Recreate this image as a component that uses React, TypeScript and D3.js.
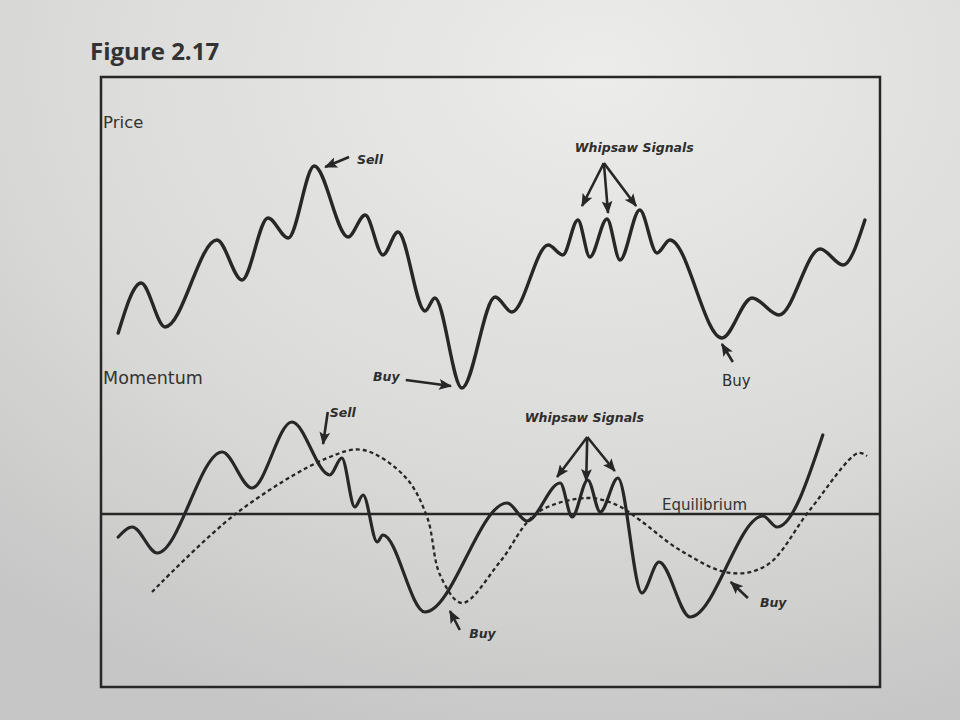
import React from 'react';
import * as d3 from 'd3';

// time index along the figure (0..150) and the readings
const priceT = [3.5, 7.9, 12.5, 22.5, 27.3, 32.3, 36.2, 41.2, 47.7, 51, 54.4, 57.3, 62.5, 64.4, 69.6, 76, 79.2, 86.2, 89, 91.9, 94.2, 97.5, 100, 103.8, 107.1, 109.6, 119.6, 125.4, 130.6, 138.5, 142.9, 147.1];
const priceV = [26.8, 46.8, 29.2, 64, 48, 72.8, 64.8, 93.6, 65.2, 74, 58, 67.2, 35.6, 40.8, 4.8, 41.2, 35.2, 62, 58, 72, 57.2, 72.4, 56, 76, 58.8, 64, 24.8, 40.8, 34, 60.4, 54, 72];

const momT = [3.5, 6.2, 11, 23.5, 29.2, 36.9, 44.2, 46.5, 49, 50.6, 53.3, 54.4, 62.5, 78.3, 82.1, 88.5, 90.8, 93.8, 96.2, 99.6, 104.2, 107.5, 113.5, 127.5, 130.2, 139];
const momV = [-11.5, -6.5, -19.5, 31, 13, 46, 19.5, 28, 3.5, 9.5, -14, -10.5, -49, 5.5, -3.5, 15.5, -1.5, 17, 1, 18, -39.5, -24, -51.5, -1, -6.5, 39.5];

const sigT = [10, 26.3, 43.7, 50.6, 58.7, 62.9, 65.4, 69.6, 76.9, 84, 93.7, 99.4, 103.8, 111.5, 121.2, 128.3, 136.5, 145.8, 147.5];
const sigV = [-39, 0.5, 28, 32, 18.5, -1.5, -30.5, -44.5, -24, 0.5, 8, 4.5, -3, -18, -29.5, -25.5, 2, 30.5, 29];

// annotations: [text, t, value, italic], arrows as [t0, v0, t1, v1]
const priceNotes: [string, number, number, boolean][] = [
  ['Sell', 49.4, 94.4, true],
  ['Buy', 52.5, 7.6, true],
  ['Whipsaw Signals', 91.3, 99.2, true],
  ['Buy', 119.6, 5.6, false],
];
const priceArrows: [number, number, number, number][] = [
  [47.9, 97.2, 43.3, 93.2],
  [58.8, 8, 67.5, 5.6],
  [96.9, 94.8, 92.7, 77.6],
  [96.9, 94.8, 97.7, 74.8],
  [96.9, 94.8, 103.1, 77.6],
  [121.7, 15.2, 119.6, 22.4],
];
const momNotes: [string, number, number, boolean][] = [
  ['Sell', 44.2, 48.5, true],
  ['Buy', 71, -62, true],
  ['Whipsaw Signals', 81.7, 46, true],
  ['Buy', 126.9, -46.5, true],
];
const momArrows: [number, number, number, number][] = [
  [43.8, 51, 42.9, 35],
  [69.2, -58, 67.3, -48.5],
  [93.7, 38.5, 87.9, 18.5],
  [93.7, 38.5, 93.5, 16.5],
  [93.7, 38.5, 99, 21.5],
  [124.6, -42, 121.3, -34],
];

const W = 960;
const H = 720;
const frame = { x0: 101, y0: 77, x1: 880, y1: 687 };
const ink = '#272727';

const x = d3.scaleLinear().domain([0, 150]).range([100, 880]);
const yPrice = d3.scaleLinear().domain([0, 100]).range([400, 150]);
const yMom = d3.scaleLinear().domain([-50, 50]).range([614, 414]);

export default function App() {
  const priceLine = d3.line<number>()
    .x((_, i) => x(priceT[i]))
    .y(d => yPrice(d))
    .curve(d3.curveMonotoneX);
  const momLine = d3.line<number>()
    .x((_, i) => x(momT[i]))
    .y(d => yMom(d))
    .curve(d3.curveMonotoneX);
  const sigLine = d3.line<number>()
    .x((_, i) => x(sigT[i]))
    .y(d => yMom(d))
    .curve(d3.curveCatmullRom.alpha(0.5));

  const arrow = (a: [number, number, number, number], y: d3.ScaleLinear<number, number>, k: string) => (
    <line key={k} x1={x(a[0])} y1={y(a[1])} x2={x(a[2])} y2={y(a[3])}
      stroke={ink} strokeWidth={2.6} markerEnd="url(#head)" />
  );
  const note = (n: [string, number, number, boolean], y: d3.ScaleLinear<number, number>, k: string) => (
    <text key={k} x={x(n[1])} y={y(n[2])}
      fontFamily="DejaVu Sans, sans-serif"
      fontSize={n[3] ? 12.5 : 15}
      fontStyle={n[3] ? 'italic' : 'normal'}
      fontWeight={n[3] ? 700 : 400}
      fill="#2e2e2e">{n[0]}</text>
  );

  return (
    <svg width={W} height={H} style={{ position: 'absolute', left: 0, top: 0 }}>
      <defs>
        <radialGradient id="paper" cx="62%" cy="10%" r="95%">
          <stop offset="0%" stopColor="#ececea" />
          <stop offset="60%" stopColor="#dadad8" />
          <stop offset="100%" stopColor="#c6c6c6" />
        </radialGradient>
        <marker id="head" viewBox="0 0 12 10" refX={11} refY={5}
          markerWidth={13} markerHeight={11} markerUnits="userSpaceOnUse" orient="auto">
          <path d="M0,0 L12,5 L0,10 L2.5,5 z" fill={ink} />
        </marker>
      </defs>
      <rect width={W} height={H} fill="url(#paper)" />

      <text x={90} y={60} fontFamily="Open Sans, sans-serif" fontWeight={700}
        fontSize={24} fill="#333">Figure 2.17</text>

      <rect x={frame.x0} y={frame.y0} width={frame.x1 - frame.x0} height={frame.y1 - frame.y0}
        fill="none" stroke={ink} strokeWidth={2.5} />

      <text x={x(0.6)} y={yPrice(108.8)} fontFamily="DejaVu Sans, sans-serif"
        fontSize={16.5} fill="#333">Price</text>
      <text x={x(0.6)} y={yMom(65)} fontFamily="DejaVu Sans, sans-serif"
        fontSize={17.5} fill="#333">Momentum</text>

      {/* price panel */}
      <path d={priceLine(priceV) ?? ''} fill="none" stroke={ink} strokeWidth={3.4}
        strokeLinejoin="round" strokeLinecap="round" />
      {priceNotes.map((n, i) => note(n, yPrice, 'pn' + i))}
      {priceArrows.map((a, i) => arrow(a, yPrice, 'pa' + i))}

      {/* momentum panel */}
      <line x1={frame.x0} x2={frame.x1} y1={yMom(0)} y2={yMom(0)} stroke={ink} strokeWidth={2.5} />
      <text x={x(108.1)} y={yMom(2)} fontFamily="DejaVu Sans, sans-serif"
        fontSize={15} fill="#333">Equilibrium</text>
      <path d={sigLine(sigV) ?? ''} fill="none" stroke={ink} strokeWidth={2.3}
        strokeDasharray="4 3" />
      <path d={momLine(momV) ?? ''} fill="none" stroke={ink} strokeWidth={3.2}
        strokeLinejoin="round" strokeLinecap="round" />
      {momNotes.map((n, i) => note(n, yMom, 'mn' + i))}
      {momArrows.map((a, i) => arrow(a, yMom, 'ma' + i))}
    </svg>
  );
}
